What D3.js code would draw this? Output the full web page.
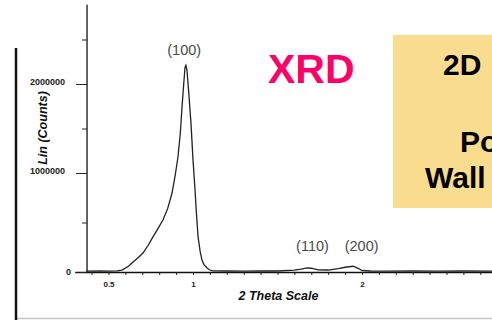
<!DOCTYPE html>
<html>
<head>
<meta charset="utf-8">
<script src="https://cdn.jsdelivr.net/npm/d3@7"></script>
<style>
  body { margin: 0; background: #fff; }
  svg { display: block; font-family: "Liberation Sans", Arial, sans-serif; }
</style>
</head>
<body>
<svg id="chart" width="492" height="320"></svg>
<script>
// XRD pattern
var theta = [0.37, 0.45, 0.5, 0.55, 0.58, 0.62, 0.645, 0.675, 0.704, 0.735, 0.763, 0.79, 0.822, 0.85, 0.876,
	0.895, 0.911, 0.925, 0.935, 0.945, 0.953, 0.958, 0.964, 0.975, 0.988, 1.0, 1.012, 1.02, 1.03, 1.042,
	1.053, 1.065, 1.083, 1.1, 1.118, 1.2, 1.3, 1.4, 1.5, 1.6, 1.64, 1.675, 1.7, 1.74, 1.8, 1.86, 1.9,
	1.947, 1.98, 2.0, 2.05, 2.15, 2.3, 2.45, 2.6, 2.78];
var counts = [8000, 10000, 8000, 12000, 20000, 60000, 100000, 145000, 192000, 270000, 354000, 430000, 525000, 640000, 798000,
	980000, 1180000, 1450000, 1740000, 2000000, 2190000, 2210000, 2160000, 1900000, 1560000, 1150000, 828000, 600000, 354000, 210000,
	121000, 75000, 40000, 20000, 12000, 10000, 9000, 12000, 10000, 18000, 30000, 42000, 38000, 22000, 20000, 35000, 48000,
	58000, 35000, 15000, 10000, 9000, 12000, 8000, 10000, 9000];

var peakLabels = ["(100)", "(110)", "(200)"];
var peakTheta = [0.948, 1.707, 1.998];
var peakCounts = [2210000, 42000, 58000];

var xTicks = d3.range(4, 28).map(function (d) { return d / 10; });
var xLabelled = [0.5, 1, 2];
var yMajor = [0, 1000000, 2000000];
var yMinor = [500000, 1500000, 2500000];

var svg = d3.select("#chart");

var x = d3.scaleLinear().domain([0.3, 2.8]).range([74.7, 497.2]);
var y = d3.scaleLinear().domain([0, 1000000, 2000000]).range([272, 173, 84]);
var x0 = x(0.373);

// slide frame
svg.append("line")
	.attr("x1", 16).attr("x2", 492).attr("y1", 318.5).attr("y2", 318.5)
	.attr("stroke", "#c4c4c4").attr("stroke-width", 1.5);
svg.append("line")
	.attr("x1", 16).attr("x2", 16).attr("y1", 48).attr("y2", 320)
	.attr("stroke", "#111").attr("stroke-width", 2.5);

// x axis
var gx = svg.append("g")
	.attr("transform", "translate(0," + y(0) + ")")
	.call(d3.axisBottom(x)
		.tickValues(xTicks)
		.tickSize(3)
		.tickSizeOuter(0)
		.tickPadding(6)
		.tickFormat(function (d) { return xLabelled.some(function (v) { return Math.abs(v - d) < 1e-6; }) ? d3.format("")(+d.toFixed(1)) : ""; }));
gx.select(".domain").attr("stroke", "#111").attr("stroke-width", 1.3);
gx.selectAll(".tick line").attr("stroke", "#222");
gx.selectAll(".tick text").attr("font-size", 8).attr("font-weight", "bold").attr("fill", "#222");

// y axis, major and minor
var gy = svg.append("g")
	.attr("transform", "translate(" + x0 + ",0)")
	.call(d3.axisLeft(y)
		.tickValues(yMajor)
		.tickSize(11)
		.tickSizeOuter(0)
		.tickPadding(11)
		.tickFormat(d3.format("d")));
gy.select(".domain").attr("d", "M0," + y(0) + "V" + y(2890000)).attr("stroke", "#111").attr("stroke-width", 1.3);
gy.selectAll(".tick line").attr("stroke", "#222");
gy.selectAll(".tick text").attr("font-size", 9).attr("font-weight", "bold").attr("fill", "#222")
	.attr("dy", "0.1em");
gy.selectAll(".tick text").filter(function (d) { return d === 0; }).attr("x", -16).attr("dy", "0.32em");

var gyMinor = svg.append("g")
	.attr("transform", "translate(" + x0 + ",0)")
	.call(d3.axisLeft(y).tickValues(yMinor).tickSize(5).tickFormat(""));
gyMinor.select(".domain").remove();
gyMinor.selectAll(".tick line").attr("stroke", "#222");

// axis titles
svg.append("text")
	.attr("transform", "translate(47,128) rotate(-90)")
	.attr("text-anchor", "middle")
	.attr("font-size", 12.5).attr("font-weight", "bold").attr("font-style", "italic")
	.attr("fill", "#111")
	.text("Lin (Counts)");
svg.append("text")
	.attr("x", 278.5).attr("y", 300)
	.attr("text-anchor", "middle")
	.attr("font-size", 12.5).attr("font-weight", "bold").attr("font-style", "italic")
	.attr("fill", "#111")
	.text("2 Theta Scale");

// pattern
var line = d3.line()
	.x(function (d, i) { return x(theta[i]); })
	.y(function (d) { return y(d); });
svg.append("path")
	.datum(counts)
	.attr("d", line)
	.attr("fill", "none")
	.attr("stroke", "#222")
	.attr("stroke-width", 1.3);

// peak labels
svg.selectAll(".peak")
	.data(peakLabels)
	.enter()
	.append("text")
	.attr("class", "peak")
	.attr("x", function (d, i) { return x(peakTheta[i]); })
	.attr("y", function (d, i) { return Math.min(y(peakCounts[i]) - 10, y(0) - 21); })
	.attr("text-anchor", "middle")
	.attr("font-size", 14.5)
	.attr("fill", "#4a4a4a")
	.text(function (d) { return d; });

// slide texts
svg.append("text")
	.attr("x", 268).attr("y", 83)
	.attr("font-size", 41).attr("font-weight", "bold")
	.attr("fill", "#ff0066")
	.text("XRD");

svg.append("rect")
	.attr("x", 393).attr("y", 35).attr("width", 120).attr("height", 173)
	.attr("fill", "#f9dc8e");
svg.append("text").attr("x", 443).attr("y", 75)
	.attr("font-size", 30).attr("font-weight", "bold").attr("fill", "#000").text("2D");
svg.append("text").attr("x", 460).attr("y", 152)
	.attr("font-size", 30).attr("font-weight", "bold").attr("fill", "#000").text("Po");
svg.append("text").attr("x", 425).attr("y", 188)
	.attr("font-size", 30).attr("font-weight", "bold").attr("fill", "#000").text("Wall");
</script>
</body>
</html>
